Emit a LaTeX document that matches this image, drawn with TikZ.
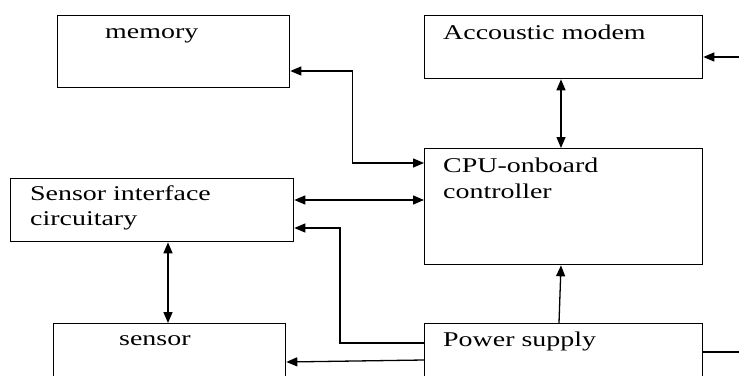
\documentclass[tikz,border=0pt]{standalone}
\usepackage{fontspec}
\setmainfont{Liberation Serif}[FakeStretch=1.33]
\usetikzlibrary{arrows.meta}

\tikzset{
	blk/.style={draw, line width=1.3pt, anchor=north west, inner sep=0pt},
	lbl/.style={anchor=base west, inner sep=0pt, font=\fontsize{21}{26}\selectfont},
	arr/.style={line width=1.3pt, -{Triangle[length=11pt,width=9pt]}},
	both/.style={line width=1.3pt, {Triangle[length=11pt,width=9pt]}-{Triangle[length=11pt,width=9pt]}}
}

\begin{document}
\begin{tikzpicture}[x=1pt,y=-1pt]
	\useasboundingbox (0,0) rectangle (739,375);
	\clip (0,0) rectangle (739,375);
	% blocks
	\node[blk, minimum width=232pt, minimum height=72pt] (mem) at (57,15) {};
	\node[blk, minimum width=278pt, minimum height=63pt] (modem) at (424,15) {};
	\node[blk, minimum width=278pt, minimum height=116pt] (cpu) at (424,148) {};
	\node[blk, minimum width=283pt, minimum height=63pt] (sif) at (10,178) {};
	\node[blk, minimum width=232pt, minimum height=80pt] (sens) at (53,323) {};
	\node[blk, minimum width=278pt, minimum height=80pt] (psu) at (424,323) {};
	% labels
	\node[lbl] (memtxt) at (105,38) {memory};
	\node[lbl] (modemtxt) at (443,39) {Accoustic modem};
	\node[lbl] (cputxt) at (443,172) {CPU-onboard};
	\node[lbl] (cputxtb) at (443,198) {controller};
	\node[lbl] (siftxt) at (30,200) {Sensor interface};
	\node[lbl] (siftxtb) at (30,225) {circuitary};
	\node[lbl] (senstxt) at (119,345) {sensor};
	\node[lbl] (psutxt) at (443,346) {Power supply};
	% free ends at the right edge
	\coordinate (modin) at (739,57);
	\coordinate (psout) at (739,352);
	% connectors
	\draw[both] ([yshift=-56pt]mem.north east) -- ++(62,0) |- ([yshift=-15pt]cpu.north west);
	\draw[both] ([xshift=137pt]modem.south west) -- ([xshift=137pt]cpu.north west);
	\draw[both] ([yshift=-22pt]sif.north east) -- ([yshift=-52pt]cpu.north west);
	\draw[both] ([xshift=158pt]sif.south west) -- ([xshift=115pt]sens.north west);
	\draw[arr] ([yshift=-20pt]psu.north west) -- ++(-84,0) |- ([yshift=-50pt]sif.north east);
	\draw[arr] ([yshift=-37pt]psu.north west) -- ([yshift=-39pt]sens.north east);
	\draw[arr] ([xshift=135pt]psu.north west) -- ([xshift=137pt]cpu.south west);
	\draw[arr] (modin) -- (modin -| modem.east);
	\draw[line width=1.3pt] (psout -| psu.east) -- (psout);
\end{tikzpicture}
\end{document}
